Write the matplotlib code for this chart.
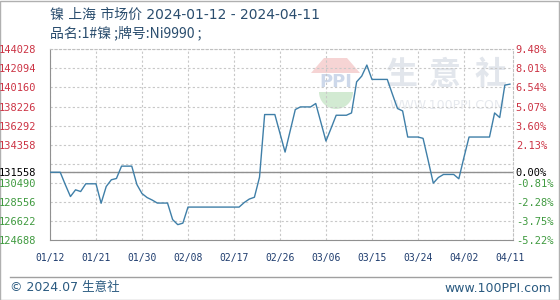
import matplotlib
matplotlib.use("Agg")
import matplotlib.pyplot as plt
import matplotlib.patches as mpatches
from matplotlib.transforms import IdentityTransform
import numpy as np
import pandas as pd

plt.rcParams['font.family'] = ['Noto Sans CJK SC', 'DejaVu Sans']

# trading-day prices (yuan/t)
dates = ["2024-01-12", "2024-01-15", "2024-01-16", "2024-01-17", "2024-01-18", "2024-01-19",
         "2024-01-22", "2024-01-23", "2024-01-24", "2024-01-25", "2024-01-26",
         "2024-01-29", "2024-01-30", "2024-01-31", "2024-02-01", "2024-02-02",
         "2024-02-05", "2024-02-06", "2024-02-07", "2024-02-08",
         "2024-02-19", "2024-02-20", "2024-02-21", "2024-02-22", "2024-02-23",
         "2024-02-26", "2024-02-27", "2024-02-28", "2024-02-29", "2024-03-01",
         "2024-03-04", "2024-03-05", "2024-03-06", "2024-03-07", "2024-03-08",
         "2024-03-11", "2024-03-12", "2024-03-13", "2024-03-14", "2024-03-15",
         "2024-03-18", "2024-03-19", "2024-03-20", "2024-03-21", "2024-03-22",
         "2024-03-25", "2024-03-26", "2024-03-27", "2024-03-28", "2024-03-29",
         "2024-04-01", "2024-04-02", "2024-04-03",
         "2024-04-08", "2024-04-09", "2024-04-10", "2024-04-11"]
prices = [131558, 130296, 129095, 129777, 129604, 130388,
          128413, 130113, 130795, 130927, 132179,
          130317, 129400, 128993, 128739, 128434,
          126754, 126245, 126398, 128026,
          128484, 128841, 129024, 131060, 137411,
          135508, 133605, 135762, 137920, 138185,
          138531, 136628, 134724, 136017, 137340,
          137574, 140730, 141310, 142430, 140974,
          140974, 139478, 138022, 137778, 135131,
          134999, 132760, 130449, 131029, 131335,
          130897, 133065, 135131,
          137574, 137106, 140394, 140496]

base = 131558
left_ticks = [144028, 142094, 140160, 138226, 136292, 134358, 132424,
              130490, 128556, 126622, 124688]
left_labels = ["144028", "142094", "140160", "138226", "136292", "134358", "",
               "130490", "128556", "126622", "124688"]
right_labels = ["9.48%", "8.01%", "6.54%", "5.07%", "3.60%", "2.13%", "",
                "-0.81%", "-2.28%", "-3.75%", "-5.22%"]
x_labels = ["01/12", "01/21", "01/30", "02/08", "02/17", "02/26",
            "03/06", "03/15", "03/24", "04/02", "04/11"]

# daily series (weekends / holidays carry the last price)
s = pd.Series(prices, index=pd.to_datetime(dates))
s = s.reindex(pd.date_range(s.index[0], s.index[-1], freq="D")).ffill()
start = s.index[0]
xd = (s.index - start).days.values

W, H = 560, 300
fig = plt.figure(figsize=(W / 100, H / 100), dpi=100)
fig.patch.set_facecolor("white")


def fx(px):
    return px / W


def fy(py):
    return 1 - py / H


ax = fig.add_axes([fx(50), fy(240), fx(513) - fx(50), fy(49.3) - fy(240)])
ax.set_xlim(0, 90.6)
ax.set_ylim(124688, 144028)

red = "#cc3344"
green = "#3f9a3f"
dark = "#1e3c6e"

yt = left_ticks[:6] + [base] + left_ticks[6:]
ax.set_yticks(yt)
ax.set_yticklabels(left_labels[:6] + [str(base)] + left_labels[6:],
                   family="DejaVu Sans Mono", fontsize=7.5)
for t, v in zip(ax.get_yticklabels(), yt):
    t.set_color(red if v > base else ("black" if v == base else green))

xt = [(pd.Timestamp("2024-" + l.replace("/", "-")) - start).days for l in x_labels]
ax.set_xticks(xt)
ax.set_xticklabels(x_labels, family="DejaVu Sans Mono", fontsize=7, color=dark)
ax.tick_params(length=0, pad=9)
ax.tick_params(axis="y", pad=10)

ax.grid(True, linestyle=(0, (2, 2)), color="#c8c8c8", linewidth=0.8)
ax.get_xgridlines()[-1].set_visible(False)
ax.axhline(base, color="#909090", linewidth=1, zorder=2)
for sp in ["left", "bottom"]:
    ax.spines[sp].set_color("#909090")
for sp in ["top", "right"]:
    ax.spines[sp].set_color("#c0c0c0")
    ax.spines[sp].set_linestyle((0, (2, 2)))
    ax.spines[sp].set_linewidth(0.8)

ax2 = ax.twinx()
ax2.set_ylim(ax.get_ylim())
ax2.set_yticks(yt)
ax2.set_yticklabels(right_labels[:6] + ["0.00%"] + right_labels[6:],
                    family="DejaVu Sans Mono", fontsize=7.5)
for t, v in zip(ax2.get_yticklabels(), yt):
    t.set_color(red if v > base else ("black" if v == base else green))
ax2.tick_params(length=0, pad=2)
for sp in ax2.spines.values():
    sp.set_visible(False)

# watermark (pixel coordinates, y measured from the bottom)
roof = mpatches.Polygon([(311, H - 73), (324, H - 58), (347, H - 58), (360, H - 73)],
                        closed=True, transform=IdentityTransform(), facecolor="#f6d4d4",
                        edgecolor="none", zorder=0)
fig.add_artist(roof)
half = mpatches.Wedge((336, H - 92), 17, 180, 360, transform=IdentityTransform(),
                      facecolor="#d2ead2", edgecolor="none", zorder=0)
fig.add_artist(half)
fig.text(fx(336), fy(82), "PPI", ha="center", va="center", fontsize=13,
         fontweight="bold", color="#cdd8ea", family="DejaVu Sans", zorder=0)
for cx, ch in zip([401, 445, 491], "生意社"):
    fig.text(fx(cx), fy(75), ch, ha="center", va="center", fontsize=23,
             fontweight="bold", color="#e2e6ec", zorder=0)
fig.text(fx(447), fy(106), "WWW.100PPI.COM", ha="center", va="center",
         fontsize=9, color="#e6e9ee", family="DejaVu Sans", zorder=0)
ax.set_facecolor("none")
ax.set_zorder(1)
ax2.set_zorder(1)

ax.plot(xd, s.values, color="#3f7fa8", linewidth=1.0, zorder=3)

# header and footer
fig.text(fx(50), fy(15), "镍 上海 市场价 2024-01-12 - 2024-04-11", ha="left",
         va="center", fontsize=10, color="#2a4d6e",
         family=["DejaVu Sans", "Noto Sans CJK SC"])
fig.text(fx(50), fy(33), "品名:1#镍 ;牌号:Ni9990 ;", ha="left", va="center",
         fontsize=10, color="#2a4d6e")
fig.add_artist(plt.Line2D([fx(10), fx(551)], [fy(277), fy(277)], color="#a0a0a0",
                          linewidth=1, transform=fig.transFigure))
fig.text(fx(10), fy(288), "© 2024.07 生意社", ha="left", va="center",
         fontsize=9, color="#2a5a80", family=["DejaVu Sans", "Noto Sans CJK SC"])
fig.text(fx(551), fy(288), "www.100PPI.com", ha="right", va="center",
         fontsize=9, color="#2a5a80", family="DejaVu Sans")
fig.add_artist(mpatches.Rectangle((0, 0), 1 - 1 / W, 1 - 1 / H, transform=fig.transFigure,
                                  fill=False, edgecolor="#b0b0b0", linewidth=1))

fig.savefig("out.png", dpi=100)
